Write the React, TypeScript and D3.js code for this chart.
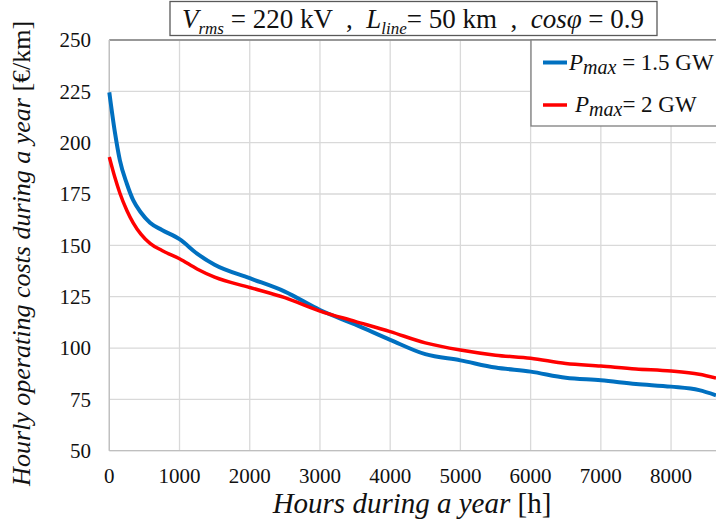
import React from "react";
import * as d3 from "d3";

const hours = [0, 80, 150, 250, 340, 450, 580, 750, 1000, 1250, 1500, 2000, 2500, 3000, 3500, 4000, 4500, 5000, 5500, 6000, 6500, 7000, 7500, 8000, 8400, 8640];
const blueValues = [224.5, 205, 191.5, 180, 172, 166, 161, 157.5, 153, 146, 140.5, 134, 127.5, 118.5, 111.5, 104, 97, 94, 90.5, 88.5, 85.5, 84.3, 82.5, 81.2, 79.5, 77];
const redValues = [193, 183, 175.5, 167, 161, 155.5, 151, 147.5, 143.5, 138.5, 134.5, 129.5, 124.5, 118, 113, 108, 102.5, 99, 96.5, 95, 92.5, 91.2, 89.8, 88.8, 87.2, 85.4];
const xTicks = [0, 1000, 2000, 3000, 4000, 5000, 6000, 7000, 8000];
const yTicks = [50, 75, 100, 125, 150, 175, 200, 225, 250];

const W = 716, H = 522;
const left = 109.3, right = 716, top = 40, bottom = 450.7;
const serif = "Liberation Serif";
const fs = (size: number, italic = false): React.CSSProperties => ({ fontFamily: serif, fontSize: size, fontStyle: italic ? "italic" : "normal", whiteSpace: "pre" });

export default function App() {
  const x = d3.scaleLinear().domain([0, 8640]).range([left, right]);
  const y = d3.scaleLinear().domain([50, 250]).range([bottom, top]);
  const line = d3.line<number>().x((_, i) => x(hours[i])).y((d) => y(d)).curve(d3.curveMonotoneX);

  return (
    <svg width={W} height={H} style={{ position: "absolute", left: 0, top: 0, background: "#fff" }}>
      <rect width={W} height={H} fill="#fff" />
      {xTicks.map((t) => (
        <line key={"gx" + t} x1={x(t)} x2={x(t)} y1={top} y2={bottom} stroke="#d9d9d9" strokeWidth={1.3} />
      ))}
      {yTicks.map((t) => (
        <line key={"gy" + t} x1={left} x2={right} y1={y(t)} y2={y(t)} stroke="#d9d9d9" strokeWidth={1.3} />
      ))}
      <line x1={left} x2={right} y1={top} y2={top} stroke="#7f7f7f" strokeWidth={1.3} />
      <line x1={left} x2={left} y1={top} y2={bottom} stroke="#bfbfbf" strokeWidth={1.3} />
      <line x1={left} x2={right} y1={bottom} y2={bottom} stroke="#bfbfbf" strokeWidth={1.3} />

      <path d={line(blueValues) || ""} fill="none" stroke="#0070C0" strokeWidth={4} />
      <path d={line(redValues) || ""} fill="none" stroke="#FF0000" strokeWidth={3.5} />

      {yTicks.map((t) => (
        <text key={"ty" + t} x={91} y={y(t)} dy="0.35em" textAnchor="end" style={fs(21)} fill="#111">{t}</text>
      ))}
      {xTicks.map((t) => (
        <text key={"tx" + t} x={x(t)} y={483} textAnchor="middle" style={fs(21)} fill="#111">{t}</text>
      ))}

      <text x={412} y={513} textAnchor="middle" style={fs(29)} fill="#111">
        <tspan style={fs(29, true)}>Hours during a year</tspan>{" [h]"}
      </text>
      <text transform={`translate(30,${(top + bottom) / 2 + 8}) rotate(-90)`} textAnchor="middle" style={fs(26)} fill="#111">
        <tspan style={fs(26, true)}>Hourly operating costs during a year</tspan>{" [€/km]"}
      </text>

      <rect x={170} y={1.5} width={487} height={34} fill="#fff" stroke="#595959" strokeWidth={1.3} />
      <text x={413} y={28} textAnchor="middle" style={fs(27)} fill="#111">
        <tspan style={fs(27, true)}>V</tspan>
        <tspan style={fs(17, true)} dy={6}>rms</tspan>
        <tspan dy={-6}>{" = 220 kV  ,  "}</tspan>
        <tspan style={fs(27, true)}>L</tspan>
        <tspan style={fs(17, true)} dy={6}>line</tspan>
        <tspan dy={-6}>{"= 50 km  ,  "}</tspan>
        <tspan style={fs(27, true)}>cosφ</tspan>
        <tspan>{" = 0.9"}</tspan>
      </text>

      <rect x={531} y={40} width={200} height={86} fill="#fff" stroke="#7f7f7f" strokeWidth={1.3} />
      <line x1={543} x2={567} y1={62.5} y2={62.5} stroke="#0070C0" strokeWidth={4} />
      <text x={569} y={70} style={fs(23)} fill="#111">
        <tspan style={fs(23, true)}>P</tspan>
        <tspan style={fs(20, true)} dy={4}>max</tspan>
        <tspan dy={-4}>{" = 1.5 GW"}</tspan>
      </text>
      <line x1={543} x2={567} y1={105} y2={105} stroke="#FF0000" strokeWidth={3.5} />
      <text x={575} y={112} style={fs(23)} fill="#111">
        <tspan style={fs(23, true)}>P</tspan>
        <tspan style={fs(20, true)} dy={4}>max</tspan>
        <tspan dy={-4}>{"= 2 GW"}</tspan>
      </text>
    </svg>
  );
}
